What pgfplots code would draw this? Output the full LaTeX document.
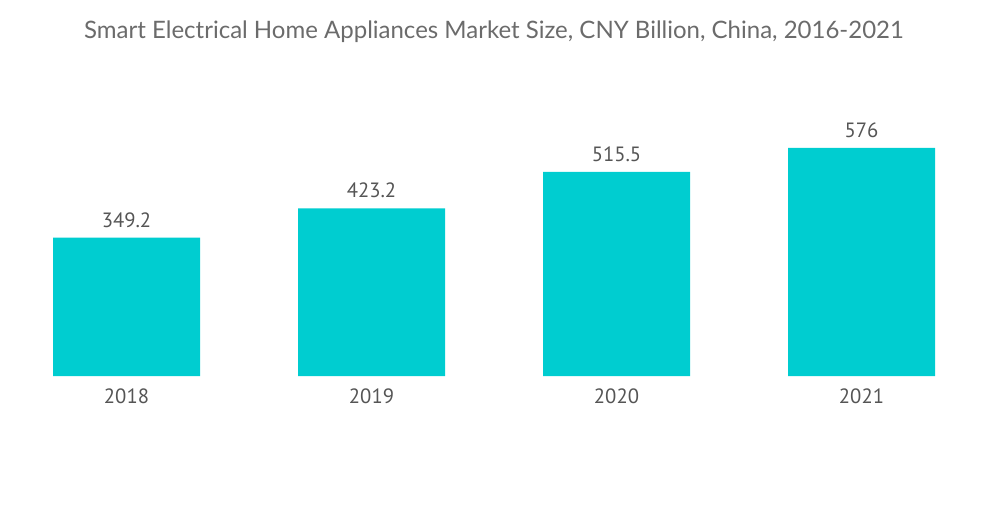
\documentclass[border=0pt]{standalone}
\usepackage{pgfplots}
\pgfplotsset{compat=1.18}
\usepackage{fontspec}
\setmainfont{Lato}
\newfontfamily\numfont{PT Sans}
\definecolor{barc}{HTML}{00CDD0}
\definecolor{titlec}{HTML}{6B6B6B}
\definecolor{labc}{HTML}{555555}
\begin{document}
\begin{tikzpicture}
\path[use as bounding box] (-3pt,-96pt) rectangle (747pt,282pt);
\begin{axis}[
  at={(0,0)}, anchor=south west,
  scale only axis,
  width=735pt, height=222.75pt,
  xmin=-0.5, xmax=3.5, ymin=0, ymax=750,
  axis lines=none,
  ytick=\empty,
  xtick={0,1,2,3},
  xticklabels={2018,2019,2020,2021},
  ybar, bar width=110.25pt,
  bar shift=0pt,
  nodes near coords,
  every node near coord/.append style={font=\numfont\fontsize{15.5}{15.5}\selectfont, text=labc, inner sep=0pt, anchor=south, yshift=7.5pt},
  point meta=explicit symbolic,
  clip=false,
]
\addplot[fill=barc, draw=none] coordinates {(0,349.2)[349.2] (1,423.2)[423.2] (2,515.5)[515.5] (3,576)[576]};
\end{axis}
\foreach \x/\l in {0/2018,1/2019,2/2020,3/2021}{
  \node[font=\numfont\fontsize{15.5}{15.5}\selectfont, text=labc, inner sep=0pt] at ({91.875pt+\x*183.75pt},-15pt) {\l};
}
\node[font=\fontsize{18}{18}\selectfont, text=titlec] at (367.5pt,258pt) {Smart Electrical Home Appliances Market Size, CNY Billion, China, 2016-2021};
\end{tikzpicture}
\end{document}
